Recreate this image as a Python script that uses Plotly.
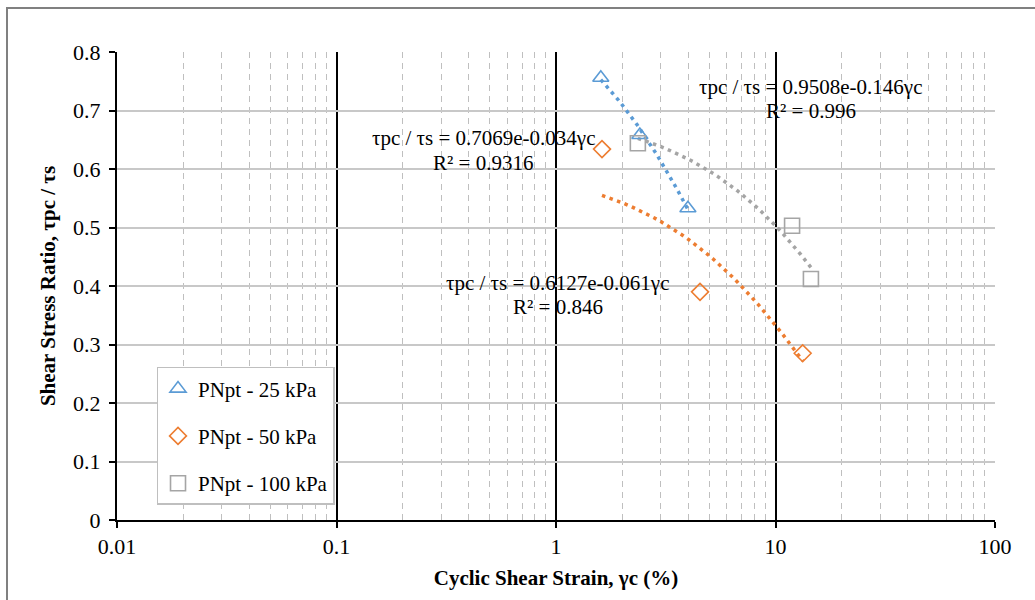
import numpy as np
import plotly.graph_objects as go

# ---- data ----
series_names = ["PNpt - 25 kPa", "PNpt - 50 kPa", "PNpt - 100 kPa"]
strain_25 = [1.60, 2.41, 3.99]
ratio_25 = [0.756, 0.658, 0.533]
strain_50 = [1.62, 4.53, 13.3]
ratio_50 = [0.634, 0.390, 0.285]
strain_100 = [2.36, 11.9, 14.5]
ratio_100 = [0.644, 0.503, 0.412]

# exponential trendline coefficients (y = a * exp(b * x)), as printed on chart
trend_a = [0.9508, 0.6127, 0.7069]
trend_b = [-0.146, -0.061, -0.034]
trend_r2 = ["0.996", "0.846", "0.9316"]

x_tickvals = [0.01, 0.1, 1, 10, 100]
x_ticktext = ["0.01", "0.1", "1", "10", "100"]
y_tickvals = [0, 0.1, 0.2, 0.3, 0.4, 0.5, 0.6, 0.7, 0.8]
y_ticktext = ["0", "0.1", "0.2", "0.3", "0.4", "0.5", "0.6", "0.7", "0.8"]

colors = ["#5B9BD5", "#ED7D31", "#A5A5A5"]
symbols = ["triangle-up-open", "diamond-open", "square-open"]
sizes = [14, 13, 15]
FONT = "Times New Roman, Liberation Serif, serif"
FS = 21

xs = [strain_25, strain_50, strain_100]
ys = [ratio_25, ratio_50, ratio_100]

fig = go.Figure()

# trendlines
for i in range(3):
    xx = np.linspace(min(xs[i]), max(xs[i]), 60)
    yy = trend_a[i] * np.exp(trend_b[i] * xx)
    fig.add_trace(go.Scatter(x=xx, y=yy, mode="lines", showlegend=False,
                             hoverinfo="skip",
                             line=dict(color=colors[i], width=3.5, dash="3.5px,4.5px")))

# data markers
for i in range(3):
    fig.add_trace(go.Scatter(x=xs[i], y=ys[i], mode="markers", name=series_names[i],
                             legendgroup=str(i),
                             marker=dict(symbol=symbols[i], size=sizes[i], color=colors[i],
                                         line=dict(width=1.6, color=colors[i]))))

# label anchors: (x, y of equation line, y of R² line)
label_pos = [(14.51, 0.7402, 0.6991), (1.021, 0.4051, 0.3641), (0.465, 0.6530, 0.6103)]
for i in range(3):
    lx, ly1, ly2 = label_pos[i]
    fig.add_annotation(x=np.log10(lx), y=ly1, xref="x", yref="y",
                       text="τpc / τs = %se%.3fγc" % (format(trend_a[i], ".4f"), trend_b[i]),
                       showarrow=False, font=dict(family=FONT, size=FS, color="black"))
    fig.add_annotation(x=np.log10(lx), y=ly2, xref="x", yref="y",
                       text="R² = %s" % trend_r2[i],
                       showarrow=False, font=dict(family=FONT, size=FS, color="black"))

fig.update_layout(
    width=1035, height=600,
    margin=dict(l=117, r=40, t=52, b=80),
    paper_bgcolor="white", plot_bgcolor="white",
    font=dict(family=FONT, size=FS, color="black"),
    showlegend=True,
    legend=dict(x=0.045, y=0.327, xanchor="left", yanchor="top",
                bgcolor="white", bordercolor="#BFBFBF", borderwidth=1.5,
                font=dict(family=FONT, size=FS, color="black"),
                tracegroupgap=17, itemwidth=30),
    shapes=[dict(type="rect", xref="paper", yref="paper",
                 x0=(7 - 117) / 878, x1=(1045 - 117) / 878,
                 y0=(520 - 610) / 468, y1=(520 - 8) / 468,
                 line=dict(color="#808080", width=2), layer="below")],
)

fig.update_xaxes(
    type="log", range=[-2, 2],
    tickvals=x_tickvals, ticktext=x_ticktext,
    showline=True, linecolor="black", linewidth=2,
    ticks="outside", ticklen=6, tickcolor="black", tickwidth=2,
    showgrid=True, gridcolor="black", gridwidth=1.5,
    minor=dict(dtick="D1", showgrid=True, gridcolor="#BFBFBF", gridwidth=1.2,
               griddash="6px,5px", ticks=""),
    zeroline=False,
    tickfont=dict(family=FONT, size=22, color="black"),
    title=dict(text="<b>Cyclic Shear Strain, γc (%)</b>", standoff=12,
               font=dict(family=FONT, size=FS, color="black")),
)
fig.update_yaxes(
    range=[0, 0.8],
    tickvals=y_tickvals, ticktext=y_ticktext,
    showline=True, linecolor="black", linewidth=2,
    ticks="outside", ticklen=6, tickcolor="black", tickwidth=2,
    ticklabelstandoff=4,
    showgrid=True, gridcolor="#C8C8C8", gridwidth=1.5,
    zeroline=False,
    tickfont=dict(family=FONT, size=22, color="black"),
    title=dict(text="<b>Shear Stress Ratio, τpc / τs</b>", standoff=12,
               font=dict(family=FONT, size=FS, color="black")),
)

fig.write_html("out.html")
